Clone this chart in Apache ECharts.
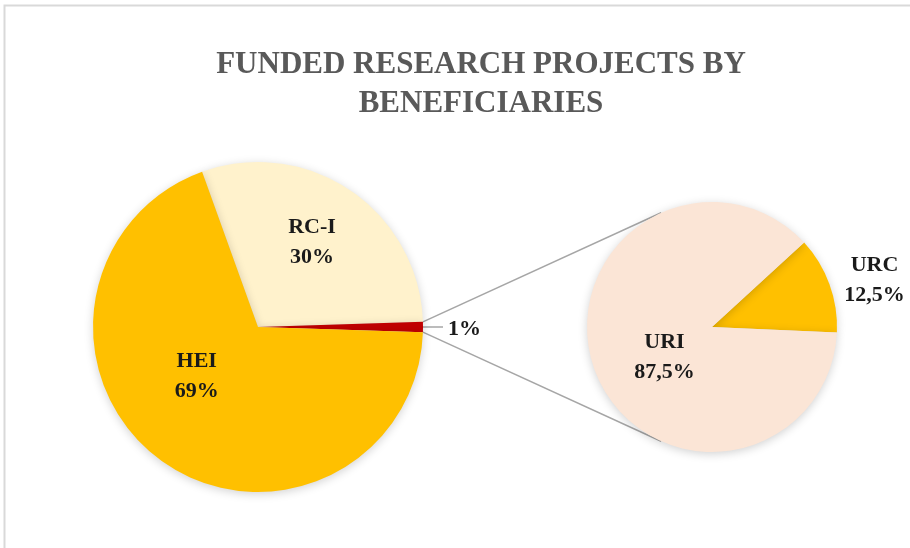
<!DOCTYPE html>
<html>
<head>
<meta charset="utf-8">
<script src="https://cdn.jsdelivr.net/npm/echarts@6/dist/echarts.min.js"></script>
<style>
  html, body { margin: 0; padding: 0; background: #fff; }
  #chart { width: 910px; height: 548px; }
</style>
</head>
<body>
<div id="chart"></div>
<script>
// main pie: beneficiaries
var mainNames = ['RC-I', 'Other', 'HEI'];
var mainValues = [30, 1, 69];
var mainLabels = ['RC-I\n30%', '1%', 'HEI\n69%'];

// secondary pie: split of the 1%
var subNames = ['URC', 'URI'];
var subValues = [12.5, 87.5];
var subLabels = ['URC\n12,5%', 'URI\n87,5%'];

var mainColors = ['#FFF2CC', '#C00000', '#FFC000'];
var subColors = ['#FFC000', '#FBE5D6'];

var font = 'Liberation Serif';
var mainC = [258, 327], mainR = 165;
var subC = [712, 327], subR = 125;

// the small slice sits centred on 3 o'clock
var otherDeg = mainValues[1] / 100 * 360;
var mainStart = otherDeg / 2 + mainValues[0] / 100 * 360;
var subStart = 90 - 47.5;

var chart = echarts.init(document.getElementById('chart'));

var labelBase = {
	fontFamily: font,
	fontWeight: 'bold',
	fontSize: 22,
	lineHeight: 30,
	color: '#1a1a1a'
};

var mainData = mainNames.map(function (n, i) {
	var d = {
		name: n,
		value: mainValues[i],
		itemStyle: {color: mainColors[i]},
		label: {formatter: mainLabels[i]}
	};
	if (i === 0) d.label.offset = [6, -14];
	if (i === 2) d.label.offset = [-11, -20];
	if (i === 1) {
		d.label.position = 'outside';
		d.label.offset = [0, 2];
		d.labelLine = {show: true, length: 6, length2: 14, lineStyle: {color: '#a6a6a6', width: 1.5}};
	}
	return d;
});

var subData = subNames.map(function (n, i) {
	var d = {
		name: n,
		value: subValues[i],
		itemStyle: {color: subColors[i]},
		label: {formatter: subLabels[i]}
	};
	if (i === 0) {
		d.label.position = 'inside';
		d.label.offset = [101, -24];
	} else {
		d.label.offset = [14, 8];
	}
	return d;
});

function rad(deg) { return deg * Math.PI / 180; }

// connector lines between the pies
var a1 = rad(otherDeg / 2);
var p1 = [mainC[0] + mainR * Math.cos(a1), mainC[1] - mainR * Math.sin(a1)];
var p2 = [mainC[0] + mainR * Math.cos(a1), mainC[1] + mainR * Math.sin(a1)];
var t = rad(114);
var q1 = [subC[0] + subR * Math.cos(t), subC[1] - subR * Math.sin(t)];
var q2 = [subC[0] + subR * Math.cos(t), subC[1] + subR * Math.sin(t)];

var option = {
	animation: false,
	backgroundColor: '#fff',
	title: {
		text: 'FUNDED RESEARCH PROJECTS BY\nBENEFICIARIES',
		left: 476,
		top: 40,
		textAlign: 'center',
		textStyle: {
			fontFamily: font,
			fontWeight: 'bold',
			fontSize: 31,
			lineHeight: 39,
			color: '#595959'
		}
	},
	graphic: [
		{
			type: 'rect',
			shape: {x: 4.5, y: 5.5, width: 1000, height: 600},
			style: {fill: 'none', stroke: '#d9d9d9', lineWidth: 2},
			silent: true
		},
		{
			type: 'line',
			shape: {x1: p1[0], y1: p1[1], x2: q1[0], y2: q1[1]},
			style: {stroke: '#a6a6a6', lineWidth: 1.5},
			z: 0
		},
		{
			type: 'line',
			shape: {x1: p2[0], y1: p2[1], x2: q2[0], y2: q2[1]},
			style: {stroke: '#a6a6a6', lineWidth: 1.5},
			z: 0
		}
	],
	series: [
		{
			type: 'pie',
			center: mainC,
			radius: mainR,
			startAngle: mainStart,
			clockwise: true,
			avoidLabelOverlap: false,
			label: Object.assign({position: 'inside'}, labelBase),
			labelLine: {show: false},
			itemStyle: {shadowBlur: 10, shadowColor: 'rgba(0,0,0,0.18)', shadowOffsetY: 2},
			emphasis: {disabled: true},
			data: mainData
		},
		{
			type: 'pie',
			center: subC,
			radius: subR,
			startAngle: subStart,
			clockwise: true,
			avoidLabelOverlap: false,
			label: Object.assign({position: 'inside'}, labelBase),
			labelLine: {show: false},
			itemStyle: {shadowBlur: 10, shadowColor: 'rgba(0,0,0,0.18)', shadowOffsetY: 2},
			emphasis: {disabled: true},
			data: subData
		}
	]
};

chart.setOption(option);
</script>
</body>
</html>
